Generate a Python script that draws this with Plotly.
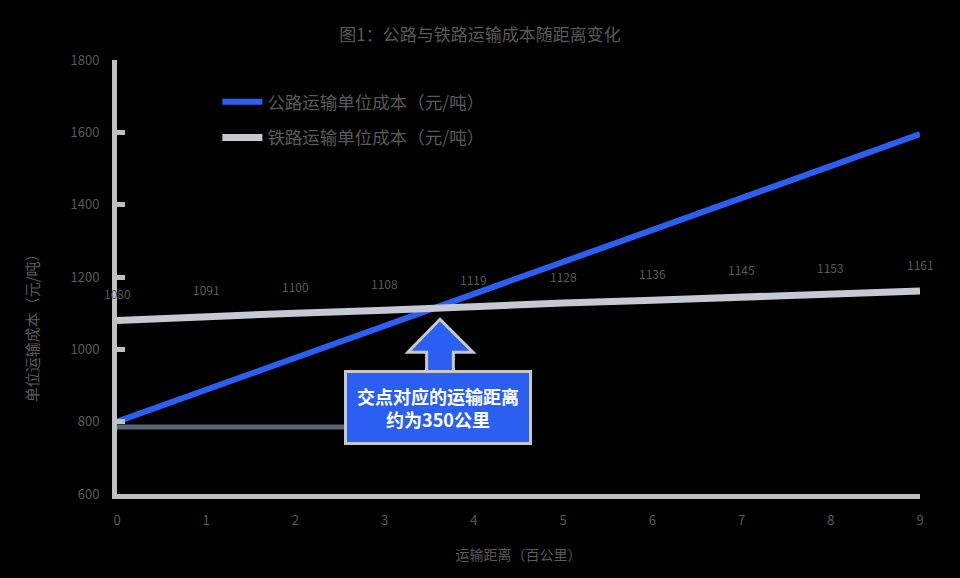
import plotly.graph_objects as go

distance = [0, 1, 2, 3, 4, 5, 6, 7, 8, 9]
road_cost = [800, 888, 977, 1065, 1153, 1242, 1330, 1418, 1507, 1595]
rail_cost = [1080, 1091, 1100, 1108, 1119, 1128, 1136, 1145, 1153, 1161]
y_ticks = [600, 800, 1000, 1200, 1400, 1600, 1800]

BLUE = "#2b5ff2"
GREY = "#c5c9d2"
TEXT = "#595959"
FONT = "Noto Sans CJK SC"

fig = go.Figure()

fig.add_trace(go.Scatter(
    x=distance, y=road_cost, mode="lines", name="公路运输单位成本（元/吨）",
    line=dict(color=BLUE, width=6), legendgroup="a"))
fig.add_trace(go.Scatter(
    x=distance, y=rail_cost, mode="lines", name="铁路运输单位成本（元/吨）",
    line=dict(color=GREY, width=7), legendgroup="b"))

# data labels for the rail line
for xv, yv in zip(distance, rail_cost):
    fig.add_annotation(x=xv, y=yv, text=str(yv), showarrow=False, yshift=27,
                       font=dict(size=12, color=TEXT, family=FONT))

# dark reference line at the start
fig.add_shape(type="line", xref="x", yref="y", x0=0, x1=3.5, y0=785, y1=785,
              line=dict(color="#596477", width=5), layer="below")

# arrow pointing to the crossing
fig.add_shape(type="path", xref="x", yref="y",
              path="M 3.62 1083 L 3.99 992 L 3.77 992 L 3.77 930 L 3.47 930 L 3.47 992 L 3.26 992 Z",
              fillcolor=BLUE, line=dict(color="#c8c8c8", width=3))

fig.add_annotation(x=3.6, y=838, text="交点对应的运输距离<br>约为350公里", showarrow=False,
                   font=dict(size=18, color="white", family=FONT, weight="bold"),
                   bgcolor=BLUE, bordercolor="#c8c8c8", borderwidth=3, borderpad=10,
                   align="center")

# y axis title, placed lower than the plot centre as in the original
fig.add_annotation(xref="paper", yref="paper", x=-0.122, y=0.39, text="单位运输成本（元/吨）",
                   textangle=-90, showarrow=False, font=dict(size=15, color=TEXT, family=FONT))

fig.update_layout(
    width=960, height=578,
    paper_bgcolor="black", plot_bgcolor="black",
    margin=dict(l=117, r=40, t=60, b=84),
    font=dict(family=FONT, color=TEXT, size=13),
    title=dict(text="图1：公路与铁路运输成本随距离变化", x=0.5, xanchor="center",
               y=0.95, font=dict(size=17, color=TEXT, family=FONT)),
    legend=dict(x=0.125, y=0.945, xanchor="left", yanchor="top", bgcolor="rgba(0,0,0,0)",
                font=dict(size=17.5, color=TEXT, family=FONT), tracegroupgap=10,
                itemwidth=40),
    showlegend=True,
)
fig.update_xaxes(range=[0, 9], tickvals=distance, showgrid=False, zeroline=False,
                 showline=True, linecolor="#c0c0c0", linewidth=5, ticks="",
                 tickfont=dict(size=13, color=TEXT), ticklabelstandoff=10,
                 title=dict(text="运输距离（百公里）", font=dict(size=14, color=TEXT), standoff=24))
fig.update_yaxes(range=[600, 1800], tickvals=y_ticks, showgrid=False, zeroline=False,
                 showline=True, linecolor="#c0c0c0", linewidth=5,
                 ticks="inside", ticklen=8, tickwidth=5, tickcolor="#c0c0c0",
                 tickfont=dict(size=13, color=TEXT), ticklabelstandoff=10)

fig.write_html("out.html", config={"displayModeBar": False},
               post_script="document.body.style.margin='0';document.body.style.background='black';")
